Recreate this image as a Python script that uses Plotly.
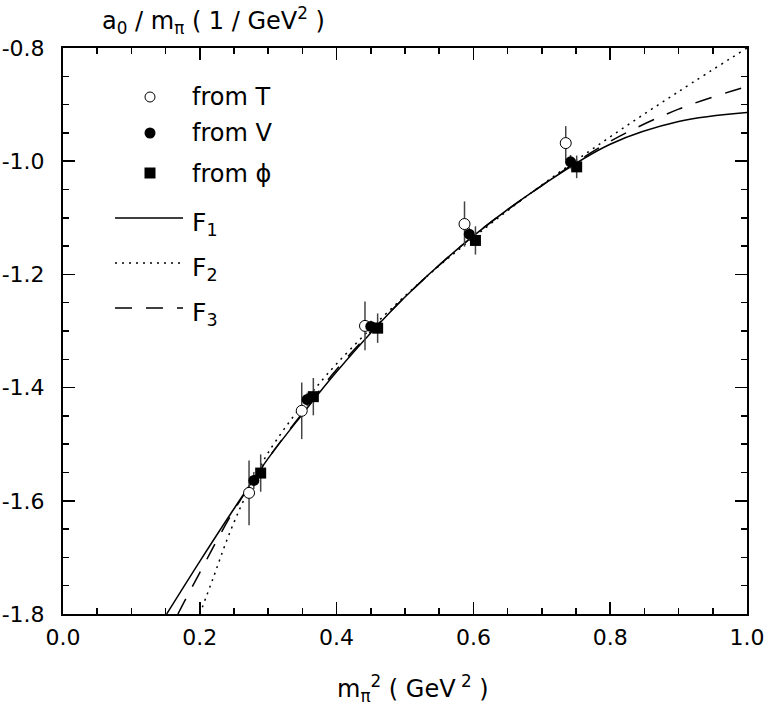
import plotly.graph_objects as go

# ---- data ----
T_x = [0.272, 0.349, 0.4415, 0.587, 0.735]
T_y = [-1.586, -1.441, -1.291, -1.111, -0.968]
T_err = [0.057, 0.050, 0.043, 0.040, 0.030]

V_x = [0.279, 0.357, 0.450, 0.594, 0.742]
V_y = [-1.564, -1.421, -1.292, -1.129, -1.001]
V_err = [0.015, 0.012, 0.010, 0.012, 0.012]

P_x = [0.289, 0.366, 0.460, 0.603, 0.751]
P_y = [-1.551, -1.416, -1.295, -1.140, -1.010]
P_err = [0.033, 0.033, 0.026, 0.025, 0.020]

F1_x = [0.1516, 0.2, 0.25, 0.3, 0.35, 0.4, 0.5, 0.6, 0.7, 0.8, 0.9, 1.0]
F1_y = [-1.80, -1.707, -1.614, -1.525, -1.447, -1.372, -1.240, -1.132, -1.043, -0.970, -0.930, -0.914]

F2_x = [0.2, 0.22, 0.24, 0.26, 0.28, 0.3, 0.35, 0.4, 0.5, 0.6, 0.7, 0.8, 0.9, 1.0]
F2_y = [-1.80, -1.735, -1.668, -1.610, -1.560, -1.515, -1.430, -1.358, -1.238, -1.135, -1.042, -0.957, -0.877, -0.800]

F3_x = [0.168, 0.18, 0.2, 0.225, 0.25, 0.3, 0.35, 0.4, 0.5, 0.6, 0.7, 0.8, 0.9, 1.0]
F3_y = [-1.80, -1.772, -1.727, -1.670, -1.617, -1.525, -1.445, -1.368, -1.240, -1.132, -1.043, -0.965, -0.908, -0.868]

x_ticks = [0.0, 0.2, 0.4, 0.6, 0.8, 1.0]
x_labels = ["0.0", "0.2", "0.4", "0.6", "0.8", "1.0"]
y_ticks = [-0.8, -1.0, -1.2, -1.4, -1.6, -1.8]
y_labels = ["-0.8", "-1.0", "-1.2", "-1.4", "-1.6", "-1.8"]

legend_marker_labels = ["from T", "from V", "from \u03d5"]
legend_line_labels = ["F<sub>1</sub>", "F<sub>2</sub>", "F<sub>3</sub>"]

FONT = "DejaVu Sans, Liberation Sans, sans-serif"
fig = go.Figure()

line_w = 1.5
fig.add_trace(go.Scatter(x=F1_x, y=F1_y, mode="lines", line=dict(color="black", width=line_w, shape="spline"), showlegend=False))
fig.add_trace(go.Scatter(x=F2_x, y=F2_y, mode="lines", line=dict(color="black", width=line_w, dash="2px,5px", shape="spline"), showlegend=False))
fig.add_trace(go.Scatter(x=F3_x, y=F3_y, mode="lines", line=dict(color="black", width=line_w, dash="17px,14px", shape="spline"), showlegend=False))

eb = lambda e: dict(type="data", array=e, visible=True, color="#444444", thickness=1.5, width=0)
fig.add_trace(go.Scatter(x=T_x, y=T_y, mode="markers", error_y=eb(T_err),
                         marker=dict(symbol="circle", size=11, color="white", line=dict(color="black", width=1)), showlegend=False))
fig.add_trace(go.Scatter(x=V_x, y=V_y, mode="markers", error_y=eb(V_err),
                         marker=dict(symbol="circle", size=11, color="black", line=dict(color="black", width=0)), showlegend=False))
fig.add_trace(go.Scatter(x=P_x, y=P_y, mode="markers", error_y=eb(P_err),
                         marker=dict(symbol="square", size=11, color="black", line=dict(color="black", width=0)), showlegend=False))

# ---- hand-drawn legend (paper coordinates) ----
W, H = 684.0, 566.0
def px(xp): return (xp - 63) / W
def py(yp): return (614 - yp) / H

shapes = []
r = 5
shapes.append(dict(type="circle", xref="paper", yref="paper", x0=px(150 - r), x1=px(150 + r), y0=py(97 + r), y1=py(97 - r),
                   line=dict(color="black", width=1), fillcolor="white"))
r = 5.5
shapes.append(dict(type="circle", xref="paper", yref="paper", x0=px(150 - r), x1=px(150 + r), y0=py(133 + r), y1=py(133 - r),
                   line=dict(color="black", width=0), fillcolor="black"))
shapes.append(dict(type="rect", xref="paper", yref="paper", x0=px(150 - r), x1=px(150 + r), y0=py(173 + r), y1=py(173 - r),
                   line=dict(color="black", width=0), fillcolor="black"))
for yy, dash in [(218, "solid"), (263, "2px,5px"), (308, "17px,14px")]:
    shapes.append(dict(type="line", xref="paper", yref="paper", x0=px(115), x1=px(183), y0=py(yy), y1=py(yy),
                       line=dict(color="black", width=line_w, dash=dash)))

annotations = []
for lab, yy in zip(legend_marker_labels, [97, 133, 174]):
    annotations.append(dict(text=lab, xref="paper", yref="paper", x=px(190), y=py(yy), xanchor="left", yanchor="middle",
                            showarrow=False, font=dict(family=FONT, size=24, color="black")))
for lab, yy in zip(legend_line_labels, [224, 269, 314]):
    annotations.append(dict(text=lab, xref="paper", yref="paper", x=px(190), y=py(yy), xanchor="left", yanchor="middle",
                            showarrow=False, font=dict(family=FONT, size=25, color="black")))

# axis titles
annotations.append(dict(text="a<sub>0</sub> / m<sub>\u03c0</sub> ( 1 / GeV<sup>2</sup> )", xref="paper", yref="paper",
                        x=px(100), y=py(20), xanchor="left", yanchor="middle", showarrow=False,
                        font=dict(family=FONT, size=24, color="black")))
annotations.append(dict(text="m<sub>\u03c0</sub><sup>2</sup> ( GeV<sup> 2</sup> )", xref="paper", yref="paper",
                        x=px(413), y=py(688), xanchor="center", yanchor="middle", showarrow=False,
                        font=dict(family=FONT, size=24, color="black")))

axis_common = dict(showline=True, linecolor="black", linewidth=2, mirror="ticks", ticks="inside",
                   ticklen=12, tickwidth=1.5, tickcolor="black", showgrid=False, zeroline=False,
                   ticklabeloverflow="allow",
                   tickfont=dict(family=FONT, size=22, color="black"))

fig.update_xaxes(range=[0, 1], tickvals=x_ticks, ticktext=x_labels,
                 minor=dict(dtick=0.05, ticks="inside", ticklen=6, tickwidth=1.5, tickcolor="black", showgrid=False),
                 ticklabelstandoff=3, **axis_common)
fig.update_yaxes(range=[-1.8, -0.8], tickvals=y_ticks, ticktext=y_labels,
                 minor=dict(dtick=0.05, tick0=-0.8, ticks="inside", ticklen=6, tickwidth=1.5, tickcolor="black", showgrid=False),
                 ticklabelstandoff=12, **axis_common)

fig.update_layout(width=764, height=710, margin=dict(l=63, r=17, t=48, b=96, pad=0, autoexpand=False),
                  plot_bgcolor="white", paper_bgcolor="white", shapes=shapes, annotations=annotations,
                  showlegend=False, font=dict(family=FONT, size=22, color="black"))

fig.write_html("out.html", config={"displayModeBar": False, "staticPlot": True},
               post_script="document.body.style.margin='0';document.body.style.overflow='hidden';")
